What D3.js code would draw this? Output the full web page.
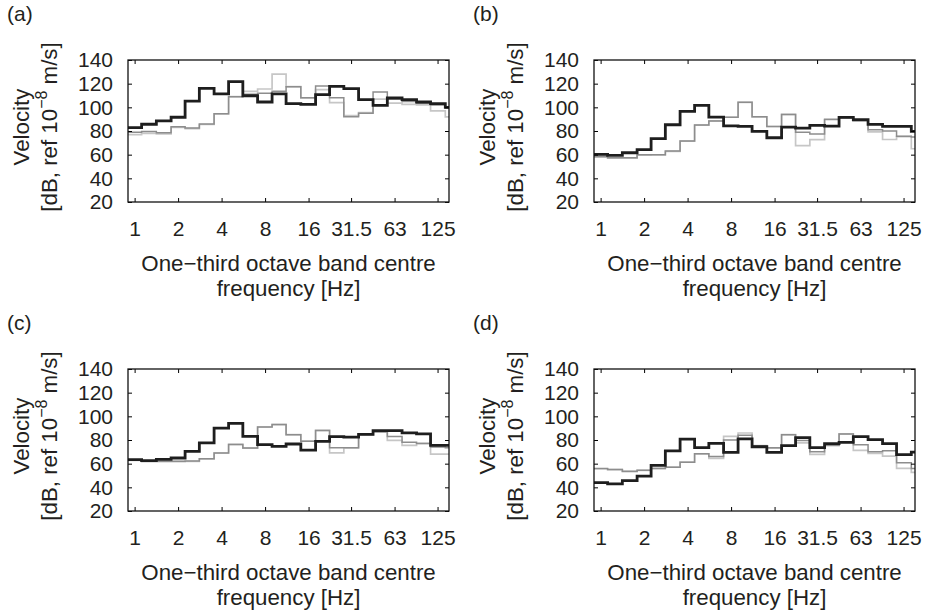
<!DOCTYPE html>
<html>
<head>
<meta charset="utf-8">
<script src="https://cdn.jsdelivr.net/npm/d3@7"></script>
<style>
  body { margin: 0; background: #fff; }
  text { font-family: "Liberation Sans", Arial, Helvetica, sans-serif; fill: #231f20; }
</style>
</head>
<body>
<div id="chart"></div>
<script>
// one-third octave band centre frequencies (last band runs off the right edge)
const bands = [1, 1.25, 1.6, 2, 2.5, 3.15, 4, 5, 6.3, 8, 10, 12.5, 16, 20, 25, 31.5, 40, 50, 63, 80, 100, 125, 160];
const xTicks = [1, 2, 4, 8, 16, 31.5, 63, 125];
const yTicks = [20, 40, 60, 80, 100, 120, 140];

// panel (a)
const aBlack = [82.8, 85.7, 88.5, 91.6, 105.3, 116, 111.3, 121.7, 109.8, 104.5, 111.3, 103.1, 102.5, 110.7, 117.7, 115.8, 106.5, 101.7, 107.9, 106.5, 104.5, 103.1, 100];
const aGray  = [79, 79.5, 78.5, 83.5, 82.5, 86, 94.5, 109, 111, 112, 113.5, 117.5, 108, 118, 108, 92, 95, 113, 107, 105, 103.5, 102, 100];
const aLight = [77, 78, 77.5, 83, 82, 85.5, 94.5, 109, 113.5, 115.5, 128, 117.5, 108, 115, 104, 93, 95.5, 107, 103.5, 102.5, 102, 97, 92];

// panel (b)
const bBlack = [60.2, 59.4, 61.6, 64.2, 73.5, 85.3, 96.6, 101.6, 91.8, 84.4, 83.9, 79.6, 74.3, 83.3, 82.5, 84.7, 84.1, 91.5, 89.5, 85.6, 83.9, 83.9, 79.6];
const bGray  = [58.5, 57.5, 57.5, 60, 60, 63, 71.5, 85, 88.5, 91.6, 104.2, 92, 83.8, 94, 79, 77.5, 90, 91.2, 89, 81, 80, 75.5, 75];
const bLight = [58, 57, 57, 59.5, 59.7, 62.8, 71.5, 85, 88.5, 91.6, 104.2, 92, 83.8, 94, 67.7, 72.7, 89.5, 91.2, 88.8, 79.3, 72.8, 75.2, 65];

// panel (c)
const cBlack = [63.4, 62.5, 63.7, 64.8, 70.4, 77.5, 90.1, 94.1, 83.1, 76.1, 74.6, 76.6, 71.4, 78.9, 82.8, 82.4, 84.7, 88, 88, 86, 85.2, 75.4, 75.4];
const cGray  = [63, 62, 62, 62, 62.2, 64.2, 69, 76.3, 73.2, 91, 93, 84.5, 79, 88, 73.4, 73.4, 84.7, 87, 83, 78, 77.1, 74, 73.5];
const cLight = [62.8, 61.7, 61.7, 61.7, 62, 64, 69, 76.3, 73.2, 91, 93, 84.5, 79, 88.2, 69.2, 73.4, 84.7, 86.6, 79.6, 75.4, 77.1, 68.1, 68];

// panel (d)
const dBlack = [44, 43, 45.7, 49.5, 58.5, 70.8, 80.7, 73.6, 77.2, 69.5, 81, 74.3, 69.5, 75.2, 82, 73.6, 76.9, 78, 82.8, 80.4, 77, 67.7, 69.8];
const dGray  = [56, 55, 53.5, 54.5, 56, 57, 61.3, 68.3, 66, 80, 84, 75.2, 73.5, 84.5, 79.6, 70, 75.5, 85, 76, 70, 71, 60.8, 56];
const dLight = [55.7, 54.9, 53.2, 54.3, 56, 57, 61.3, 68.3, 64.5, 83.1, 85.9, 75.2, 73.2, 84.5, 77.5, 67.8, 75.2, 85.1, 71.2, 68.7, 66.4, 56, 52.7];

const panels = [
    {tag: "(a)", series: [aLight, aGray, aBlack], left: 128, top: 60},
    {tag: "(b)", series: [bLight, bGray, bBlack], left: 594, top: 60},
    {tag: "(c)", series: [cLight, cGray, cBlack], left: 128, top: 369},
    {tag: "(d)", series: [dLight, dGray, dBlack], left: 594, top: 369}
];

const styles = [
    {color: "#c6c6c6", width: 1.7},
    {color: "#8d8d8d", width: 1.5},
    {color: "#1e1e1e", width: 2.8}
];

const W = 927, H = 613;
const pw = 321, ph = 142;

const svg = d3.select("#chart").append("svg")
    .attr("width", W)
    .attr("height", H);

const x = d3.scaleLog().base(2).domain([0.9, 150]).range([0, pw]);
const y = d3.scaleLinear().domain([20, 140]).range([ph, 0]);

// band edges: geometric midpoints between centres
function bandEdges() {
    const e = [bands[0] * Math.pow(2, -1 / 6)];
    for (let i = 0; i < bands.length - 1; i++) e.push(Math.sqrt(bands[i] * bands[i + 1]));
    e.push(bands[bands.length - 1] * Math.pow(2, 1 / 6));
    return e;
}
const edges = bandEdges();

const line = d3.line()
    .x(d => x(d[0]))
    .y(d => y(d[1]))
    .curve(d3.curveStepAfter);

panels.forEach((p, i) => {
    const g = svg.append("g").attr("transform", `translate(${p.left},${p.top})`);

    svg.append("text")
        .attr("x", p.left - 121)
        .attr("y", p.top - 39)
        .attr("font-size", 21)
        .text(p.tag);

    g.append("clipPath").attr("id", "clip" + i)
        .append("rect").attr("width", pw).attr("height", ph);

    const plot = g.append("g").attr("clip-path", `url(#clip${i})`);
    p.series.forEach((vals, s) => {
        const pts = vals.map((v, k) => [edges[k], v]);
        pts.push([edges[vals.length], vals[vals.length - 1]]);
        plot.append("path")
            .attr("d", line(pts))
            .attr("fill", "none")
            .attr("stroke", styles[s].color)
            .attr("stroke-width", styles[s].width)
            .attr("stroke-linejoin", "miter");
    });

    // axes with inward ticks
    g.append("g")
        .attr("transform", `translate(0,${ph})`)
        .call(d3.axisBottom(x).tickValues(xTicks).tickFormat(d => String(d)).tickSize(-4).tickPadding(19))
        .call(a => a.select(".domain").remove())
        .call(a => a.selectAll("text").attr("font-size", 21).attr("fill", "#231f20").attr("font-family", null));
    g.append("g")
        .call(d3.axisTop(x).tickValues(xTicks).tickFormat("").tickSize(-4))
        .call(a => a.select(".domain").remove());
    g.append("g")
        .call(d3.axisLeft(y).tickValues(yTicks).tickSize(-4).tickPadding(15))
        .call(a => a.select(".domain").remove())
        .call(a => a.selectAll("text").attr("font-size", 21).attr("fill", "#231f20").attr("font-family", null));
    g.append("g")
        .attr("transform", `translate(${pw},0)`)
        .call(d3.axisRight(y).tickValues(yTicks).tickFormat("").tickSize(-4))
        .call(a => a.select(".domain").remove());

    g.append("rect")
        .attr("width", pw).attr("height", ph)
        .attr("fill", "none").attr("stroke", "#111").attr("stroke-width", 1.3);

    // x label
    const xl = g.append("text")
        .attr("text-anchor", "middle")
        .attr("font-size", 22.3)
        .attr("transform", `translate(${pw / 2},${ph + 69})`);
    xl.append("tspan").attr("x", 0).attr("y", 0).text("One\u2212third octave band centre");
    xl.append("tspan").attr("x", 0).attr("y", 25).text("frequency [Hz]");

    // y label
    const yl = g.append("text")
        .attr("text-anchor", "middle")
        .attr("font-size", 22.3)
        .attr("transform", `translate(-99,${ph / 2 - 4}) rotate(-90)`);
    yl.append("tspan").attr("x", 0).attr("y", 0).text("Velocity");
    const l2 = yl.append("tspan").attr("x", 0).attr("y", 28);
    l2.text("[dB, ref 10");
    yl.append("tspan").attr("font-size", 16).attr("dy", -10).text("\u22128");
    yl.append("tspan").attr("dy", 10).text(" m/s]");
});
</script>
</body>
</html>
